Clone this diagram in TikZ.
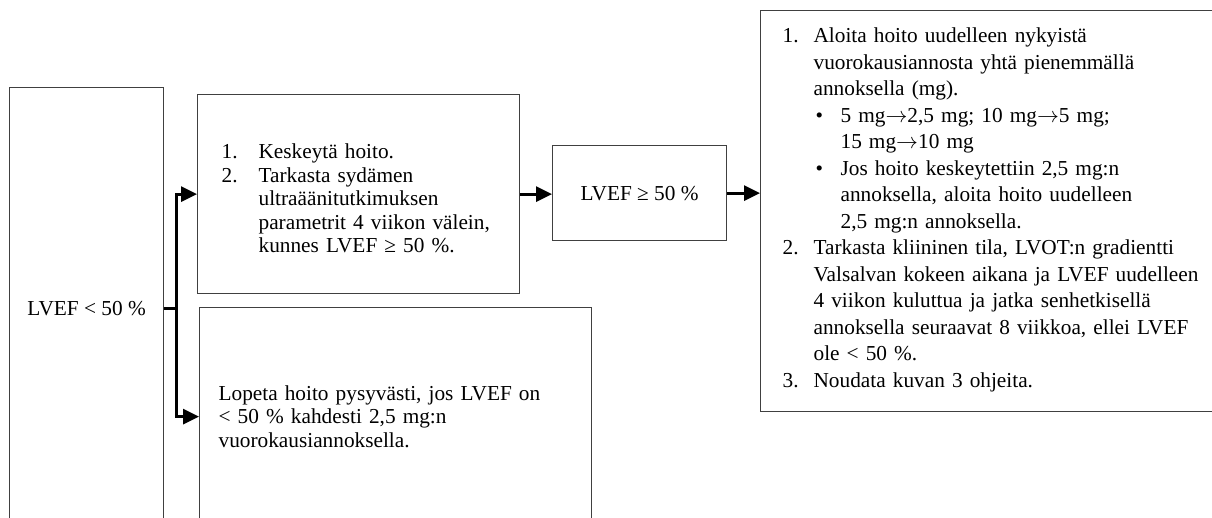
\documentclass[tikz,border=0pt]{standalone}
\usepackage{fontspec}
\setmainfont{Liberation Serif}
\usetikzlibrary{arrows.meta}

%% voce numerata: larghezza etichetta, etichetta, testo
\newcommand{\kohta}[3]{%
	\par\noindent\hangindent=#1\hangafter=1\makebox[#1][l]{#2}#3\par}
%% voce puntata dentro la voce 1
\newcommand{\pallo}[1]{%
	\par\noindent\hangindent=29pt\hangafter=1\hspace*{16.5pt}\makebox[12.5pt][l]{•}#1\par}

\begin{document}
\begin{tikzpicture}[x=0.5pt, y=-0.5pt,
	ruutu/.style = {rectangle, draw=black!75, line width=0.6pt,
		anchor=north west, inner ysep=0pt,
		font=\fontsize{10.65pt}{11.8pt}\selectfont},
	nuoli/.style = {line width=1.5pt, -{Triangle[length=8pt,width=7.5pt]}},
	haara/.style = {line width=1.5pt},
	]
	
	%% ── Rajaus (pikselit, y alaspäin) ────────────────────────────────────────
	\useasboundingbox (0,0) rectangle (1212,518);
	\clip (0,0) rectangle (1212,518);
	
	%% ── Lähtötilanne ─────────────────────────────────────────────────────────
	\node[ruutu, minimum width=77pt, minimum height=220.5pt, align=center]
	(alku) at (9,87) {LVEF < 50 \%};
	
	%% ── Hoidon keskeytys ─────────────────────────────────────────────────────
	\node[ruutu, minimum width=161pt, minimum height=99.5pt,
		text width=137pt, inner xsep=12pt, align=left]
	(tauko) at (197,94) {%
		\kohta{18.5pt}{1.}{Keskeytä hoito.}
		\kohta{18.5pt}{2.}{Tarkasta sydämen\newline ultraäänitutkimuksen\newline
			parametrit 4 viikon välein,\newline kunnes LVEF ≥ 50 \%.}};
	
	%% ── Hoidon lopetus ───────────────────────────────────────────────────────
	\node[ruutu, minimum width=196pt, minimum height=109pt,
		text width=177pt, inner xsep=9.5pt, align=left]
	(lopetus) at (199,307) {Lopeta hoito pysyvästi, jos LVEF on\newline
		< 50 \% kahdesti 2,5 mg:n\newline vuorokausiannoksella.};
	
	%% ── Toipuminen ───────────────────────────────────────────────────────────
	\node[ruutu, minimum width=87pt, minimum height=47.5pt, align=center]
	(ok) at (552,145) {LVEF ≥ 50 \%};
	
	%% ── Hoidon uudelleenaloitus ──────────────────────────────────────────────
	\node[ruutu, minimum width=231pt, minimum height=200.5pt,
		text width=209pt, inner xsep=11pt, align=left,
		font=\fontsize{10.65pt}{13.25pt}\selectfont]
	(uusinta) at (760,10) {%
		\kohta{15.5pt}{1.}{Aloita hoito uudelleen nykyistä\newline
			vuorokausiannosta yhtä pienemmällä\newline annoksella (mg).
			\pallo{5 mg$\rightarrow$2,5 mg; 10 mg$\rightarrow$5 mg;\newline
				15 mg$\rightarrow$10 mg}
			\pallo{Jos hoito keskeytettiin 2,5 mg:n\newline
				annoksella, aloita hoito uudelleen\newline 2,5 mg:n annoksella.}}
		\kohta{15.5pt}{2.}{Tarkasta kliininen tila, LVOT:n gradientti\newline
			Valsalvan kokeen aikana ja LVEF uudelleen\newline
			4 viikon kuluttua ja jatka senhetkisellä\newline
			annoksella seuraavat 8 viikkoa, ellei LVEF\newline ole < 50 \%.}
		\kohta{15.5pt}{3.}{Noudata kuvan 3 ohjeita.}
		\nointerlineskip\vspace*{7pt}\hbox{}};
	
	%% ── Nuolet ───────────────────────────────────────────────────────────────
	\coordinate (haarakohta) at ([xshift=6pt]alku.east);
	\draw[haara] (alku.east) -- (haarakohta);
	\draw[nuoli] (haarakohta) |- (tauko.west);
	\draw[nuoli] (haarakohta) |- (lopetus.west);
	\draw[nuoli] (tauko.east) -- (tauko.east -| ok.west);
	\draw[nuoli] (ok.east) -- (ok.east -| uusinta.west);
	
\end{tikzpicture}
\end{document}
